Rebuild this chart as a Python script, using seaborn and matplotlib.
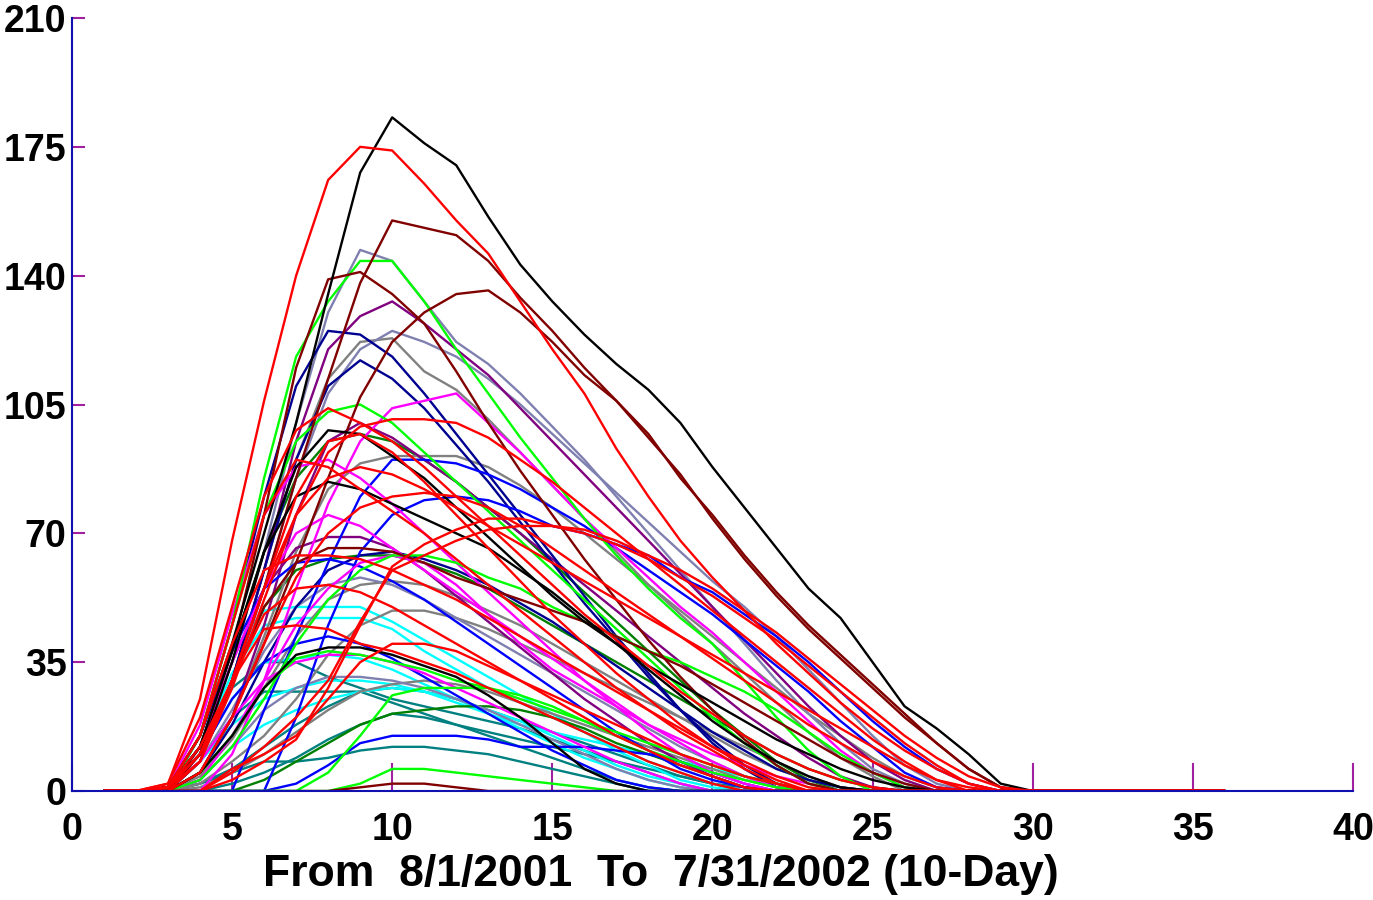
import matplotlib
matplotlib.use("Agg")
import matplotlib.pyplot as plt
import pandas as pd
import seaborn as sns

# 10-day periods (1..36); trailing zeros omitted
periods = list(range(1, 37))

teal = [
    [0, 0, 1, 12, 28, 35, 35, 31, 28, 25, 23, 21, 19, 17, 14, 11, 8, 5, 2, 0],
    [0, 0, 1, 8, 20, 27, 27, 27, 27, 24, 21, 18, 15, 12, 9, 6, 3, 1, 0],
    [0, 0, 0, 2, 5, 8, 8, 9, 11, 12, 12, 11, 10, 8, 6, 4, 2, 0],
    [0, 0, 0, 0, 2, 5, 9, 14, 18, 21, 20, 18, 16, 14, 12, 10, 8, 6, 4, 2, 1, 0],
    [0, 0, 0, 2, 6, 12, 18, 23, 27, 28, 27, 25, 22, 19, 16, 13, 10, 7, 4, 2, 0],
]
cyan = [
    [0, 0, 1, 15, 38, 49, 50, 50, 50, 46, 41, 36, 31, 26, 21, 16, 11, 7, 3, 1, 0],
    [0, 0, 1, 12, 32, 45, 47, 47, 47, 44, 38, 33, 28, 24, 20, 16, 12, 8, 5, 2, 0],
    [0, 0, 1, 10, 25, 35, 36, 37, 36, 33, 29, 25, 21, 17, 13, 9, 6, 3, 1, 0],
    [0, 0, 0, 3, 12, 18, 22, 25, 27, 28, 27, 25, 22, 19, 15, 11, 7, 4, 2, 0],
    [0, 0, 1, 8, 18, 25, 28, 30, 30, 29, 27, 24, 21, 18, 16, 14, 12, 10, 8, 6, 4, 2, 0],
]
dkgreen = [
    [0, 0, 1, 12, 38, 65, 85, 95, 97, 95, 90, 84, 77, 70, 62, 54, 46, 38, 30, 22, 15, 8, 3, 0],
    [0, 0, 0, 0, 0, 3, 8, 13, 18, 21, 22, 23, 23, 22, 20, 17, 13, 10, 7, 4, 1, 0],
    [0, 0, 1, 10, 30, 50, 60, 63, 64, 64, 62, 59, 55, 50, 45, 40, 35, 30, 25, 20, 15, 10, 6, 3, 1, 0],
]
gray = [
    [0, 0, 0, 8, 30, 60, 90, 112, 122, 123, 114, 109, 101, 92, 83, 74, 65, 56, 48, 40, 32, 24, 16, 9, 4, 0],
    [0, 0, 0, 5, 20, 42, 65, 82, 89, 91, 91, 91, 88, 83, 77, 70, 63, 56, 49, 42, 35, 28, 21, 15, 9, 4, 1, 0],
    [0, 0, 0, 2, 8, 15, 25, 37, 45, 49, 49, 47, 44, 40, 36, 32, 28, 24, 20, 16, 12, 8, 4, 1, 0],
    [0, 0, 0, 4, 14, 28, 42, 52, 56, 57, 56, 53, 49, 45, 40, 35, 30, 25, 20, 15, 10, 6, 3, 1, 0],
    [0, 0, 0, 1, 5, 10, 16, 22, 27, 29, 30, 29, 27, 24, 21, 18, 15, 12, 9, 6, 3, 1, 0],
]
slate = [
    [0, 0, 0, 12, 35, 65, 100, 130, 147, 144, 133, 122, 116, 108, 99, 90, 80, 70, 60, 50, 40, 30, 21, 13, 6, 2, 0],
    [0, 0, 0, 8, 28, 55, 85, 108, 120, 125, 122, 118, 112, 105, 97, 89, 81, 73, 65, 57, 50, 42, 33, 24, 15, 7, 2, 0],
    [0, 0, 0, 3, 12, 22, 28, 31, 31, 30, 28, 25, 22, 18, 14, 10, 6, 3, 1, 0],
    [0, 0, 1, 8, 22, 38, 50, 56, 58, 56, 52, 47, 42, 37, 32, 27, 22, 17, 12, 8, 4, 1, 0],
]
purple = [
    [0, 0, 0, 10, 30, 60, 95, 120, 129, 133, 127, 120, 113, 104, 95, 86, 77, 68, 59, 50, 41, 32, 23, 15, 8, 3, 0],
    [0, 0, 1, 12, 35, 55, 66, 69, 69, 66, 60, 53, 46, 39, 32, 25, 19, 13, 8, 4, 1, 0],
    [0, 0, 0, 5, 20, 45, 75, 95, 100, 96, 90, 84, 77, 70, 63, 56, 49, 42, 35, 28, 21, 15, 9, 4, 1, 0],
]
navy = [
    [0, 0, 0, 15, 45, 80, 110, 125, 124, 118, 108, 97, 86, 75, 64, 53, 42, 32, 22, 13, 6, 1, 0],
    [0, 0, 0, 8, 30, 60, 90, 110, 117, 112, 104, 94, 84, 73, 62, 51, 41, 31, 22, 14, 7, 2, 0],
    [0, 0, 0, 5, 18, 35, 50, 60, 64, 65, 63, 60, 56, 51, 46, 40, 34, 28, 22, 16, 11, 6, 3, 1, 0],
]
blue = [
    [0, 0, 0, 0, 0, 22, 42, 62, 80, 90, 90, 89, 86, 82, 77, 72, 66, 60, 54, 48, 41, 34, 27, 19, 12, 5, 1, 0],
    [0, 0, 0, 0, 0, 0, 20, 45, 65, 75, 79, 80, 79, 76, 72, 70, 67, 64, 58, 54, 48, 42, 35, 27, 19, 12, 6, 2, 0],
    [0, 0, 0, 0, 0, 0, 2, 7, 13, 15, 15, 15, 14, 12, 12, 12, 11, 10, 8, 5, 2, 0],
    [0, 0, 1, 15, 38, 55, 62, 63, 61, 57, 52, 46, 40, 34, 28, 22, 16, 11, 6, 3, 1, 0],
    [0, 0, 1, 10, 25, 35, 40, 42, 40, 36, 31, 26, 21, 16, 11, 7, 3, 1, 0],
]
magenta = [
    [0, 0, 0, 0, 10, 30, 55, 78, 95, 104, 106, 108, 100, 92, 83, 74, 66, 58, 50, 43, 35, 27, 19, 11, 5, 1, 0],
    [0, 0, 1, 8, 20, 30, 35, 37, 37, 35, 32, 28, 24, 20, 16, 12, 8, 5, 2, 0],
    [0, 0, 1, 18, 48, 75, 88, 90, 85, 78, 70, 62, 54, 46, 38, 30, 23, 16, 10, 5, 2, 0],
    [0, 0, 1, 12, 35, 55, 70, 75, 72, 66, 60, 54, 48, 42, 36, 30, 24, 18, 13, 8, 4, 1, 0],
    [0, 0, 0, 3, 15, 30, 45, 55, 62, 64, 62, 56, 48, 40, 33, 28, 23, 18, 14, 10, 7, 4, 2, 0],
]
green = [
    [0, 0, 0, 15, 45, 85, 118, 133, 144, 144, 133, 120, 108, 96, 85, 74, 64, 55, 47, 40, 30, 20, 11, 4, 0],
    [0, 0, 1, 15, 45, 75, 95, 103, 105, 100, 92, 84, 76, 68, 60, 52, 44, 36, 28, 20, 13, 7, 2, 0],
    [0, 0, 0, 3, 12, 25, 40, 52, 60, 64, 64, 62, 58, 55, 50, 46, 42, 38, 35, 31, 27, 22, 16, 10, 5, 1, 0],
    [0, 0, 0, 0, 0, 0, 0, 5, 15, 26, 28, 28, 28, 26, 23, 19, 15, 11, 8, 5, 3, 1, 0],
    [0, 0, 0, 0, 0, 0, 0, 0, 2, 6, 6, 5, 4, 3, 2, 1, 0],
    [0, 0, 0, 5, 15, 28, 36, 38, 37, 35, 33, 30, 28, 25, 22, 19, 16, 13, 10, 7, 4, 2, 0],
]
maroon = [
    [0, 0, 0, 10, 30, 55, 85, 112, 138, 155, 153, 151, 144, 134, 125, 115, 106, 96, 86, 74, 63, 53, 44, 36, 28, 20, 13, 6, 1, 0],
    [0, 0, 0, 5, 20, 40, 62, 85, 107, 122, 130, 135, 136, 130, 122, 113, 106, 97, 85, 75, 64, 54, 45, 37, 29, 21, 13, 6, 1, 0],
    [0, 0, 0, 12, 38, 75, 115, 139, 141, 135, 127, 114, 100, 87, 75, 63, 52, 41, 31, 22, 14, 7, 2, 0],
    [0, 0, 1, 10, 30, 50, 62, 66, 66, 65, 62, 58, 55, 52, 49, 46, 42, 38, 34, 29, 24, 19, 14, 9, 5, 2, 0],
    [0, 0, 0, 0, 0, 0, 0, 0, 1, 2, 2, 1, 0],
]
black = [
    [0, 0, 1, 10, 35, 65, 88, 98, 97, 91, 85, 77, 69, 61, 53, 46, 40, 34, 29, 24, 19, 14, 10, 6, 3, 1, 0],
    [0, 0, 0, 5, 15, 28, 37, 39, 39, 37, 34, 31, 26, 20, 13, 6, 2, 0],
    [0, 0, 1, 12, 38, 65, 80, 84, 82, 78, 74, 70, 66, 60, 54, 47, 40, 33, 26, 19, 13, 8, 4, 1, 0],
    [0, 0, 1, 15, 40, 70, 100, 135, 168, 183, 176, 170, 156, 143, 133, 124, 116, 109, 100, 88, 77, 66, 55, 47, 35, 23, 17, 10, 2, 0],
]
red = [
    [0, 0, 1, 8, 28, 52, 75, 92, 99, 101, 101, 100, 96, 90, 84, 77, 70, 63, 56, 49, 42, 35, 28, 21, 14, 8, 3, 0],
    [0, 0, 0, 0, 3, 8, 14, 28, 45, 61, 67, 71, 74, 74, 72, 70, 67, 63, 58, 53, 47, 41, 34, 27, 20, 13, 7, 2, 0],
    [0, 0, 0, 0, 5, 12, 20, 30, 46, 60, 64, 68, 71, 72, 72, 71, 68, 64, 60, 55, 49, 43, 36, 29, 22, 15, 9, 4, 1, 0],
    [0, 0, 2, 20, 50, 80, 98, 104, 100, 95, 88, 80, 72, 64, 56, 48, 41, 34, 27, 21, 15, 10, 6, 3, 1, 0],
    [0, 0, 1, 12, 30, 44, 45, 44, 40, 38, 35, 32, 28, 24, 20, 16, 12, 8, 5, 2, 0],
    [0, 0, 1, 15, 40, 60, 64, 64, 63, 60, 56, 52, 47, 42, 37, 32, 27, 22, 17, 12, 8, 4, 1, 0],
    [0, 0, 0, 8, 30, 55, 80, 95, 97, 92, 84, 75, 66, 57, 48, 40, 32, 25, 18, 12, 7, 3, 0],
    [0, 0, 1, 15, 45, 75, 90, 88, 82, 76, 70, 63, 56, 49, 42, 35, 28, 22, 16, 11, 6, 2, 0],
    [0, 0, 1, 10, 30, 48, 55, 56, 54, 50, 45, 40, 35, 30, 25, 20, 15, 11, 7, 4, 1, 0],
    [0, 0, 0, 0, 6, 10, 15, 25, 35, 40, 40, 38, 34, 30, 26, 22, 18, 14, 10, 7, 4, 2, 0],
    [0, 0, 0, 5, 20, 40, 58, 70, 77, 80, 81, 80, 77, 72, 66, 60, 54, 48, 42, 36, 30, 24, 18, 13, 8, 4, 1, 0],
    [0, 0, 1, 10, 30, 55, 75, 85, 88, 86, 82, 77, 72, 67, 62, 57, 52, 47, 42, 37, 32, 27, 22, 17, 12, 7, 3, 1, 0],
    [0, 0, 2, 25, 68, 106, 140, 166, 175, 174, 165, 155, 146, 133, 120, 108, 93, 80, 68, 58, 49, 40, 32, 24, 17, 11, 6, 2, 0],
]

groups = [
    ("#008080", teal), ("#00FFFF", cyan), ("#008000", dkgreen), ("#808080", gray),
    ("#8080B0", slate), ("#800080", purple), ("#000090", navy), ("#0000FF", blue),
    ("#FF00FF", magenta), ("#00FF00", green), ("#800000", maroon), ("#000000", black),
    ("#FF0000", red),
]

rows = []
palette = {}
n = 0
for color, series in groups:
    for vals in series:
        name = "s%02d" % n
        palette[name] = color
        full = vals + [0] * (len(periods) - len(vals))
        for p, v in zip(periods, full):
            rows.append((name, p, v))
        n += 1
df = pd.DataFrame(rows, columns=["series", "period", "value"])

sns.set_style("white")
plt.rcParams["font.family"] = ["Liberation Sans", "DejaVu Sans"]

fig = plt.figure(figsize=(13.73, 9), dpi=100)
ax = fig.add_axes([0.0524, 0.1211, 0.9330, 0.8589])
sns.lineplot(data=df, x="period", y="value", hue="series", palette=palette,
             hue_order=list(palette.keys()), estimator=None, legend=False,
             linewidth=1.7, ax=ax)

ax.set_xlim(0, 40)
ax.set_ylim(0, 210)
ax.set_xticks(range(0, 41, 5))
ax.set_yticks(range(0, 211, 35))
for lab in ax.get_xticklabels() + ax.get_yticklabels():
    lab.set_fontweight("bold")
ax.tick_params(axis="x", bottom=True, direction="in", length=20, width=1.5,
               color="#A020A0", pad=15, labelsize=27, labelcolor="black")
ax.tick_params(axis="y", left=True, direction="in", length=9, width=1.5,
               color="#A020A0", pad=4, labelsize=27, labelcolor="black")

sns.despine(ax=ax)
for side in ("left", "bottom"):
    ax.spines[side].set_color("#1010B0")
    ax.spines[side].set_linewidth(1.5)

ax.set_ylabel("")
ax.set_xlabel("From  8/1/2001  To  7/31/2002 (10-Day)", fontsize=32,
              fontweight="bold", color="black", va="center")
ax.xaxis.set_label_coords(0.46, -0.108)

fig.savefig("out.png", dpi=100)
